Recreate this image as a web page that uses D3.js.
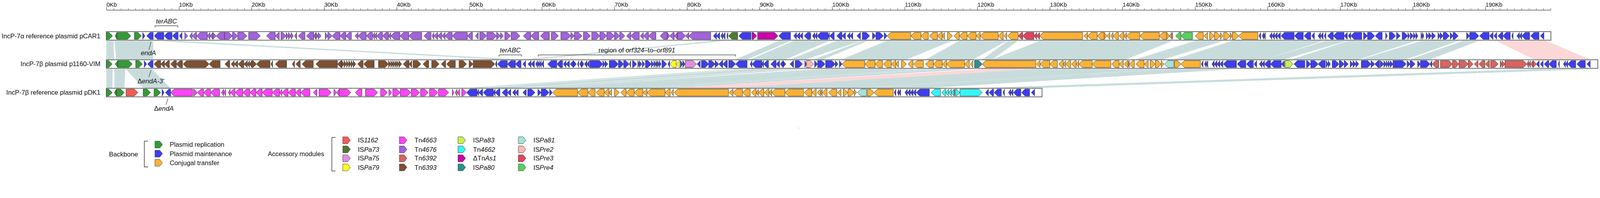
<!DOCTYPE html>
<html>
<head>
<meta charset="utf-8">
<script src="https://cdn.jsdelivr.net/npm/d3@7"></script>
<style>
html, body { margin: 0; padding: 0; background: #fff; overflow: hidden; }
svg { display: block; font-family: "Liberation Sans", Arial, Helvetica, sans-serif; }
</style>
</head>
<body>
<svg></svg>
<script>
// Canvas size
var width = 4667;
var height = 506;

// ---- data ----
var plasmidNames = [
    "IncP-7\u03b1 reference plasmid pCAR1",
    "IncP-7\u03b2 plasmid p1160-VIM",
    "IncP-7\u03b2 reference plasmid pDK1"
];
var plasmidLengths = [199.04, 205.5, 128.92];   // Kb

var majorTicks = [0, 10, 20, 30, 40, 50, 60, 70, 80, 90, 100, 110, 120, 130, 140, 150, 160, 170, 180, 190];
var axisEnd = 199;

// genes: [start Kb, end Kb, strand, module]
var pCAR1Genes = [
    [0, 0.85, 1, "rep"], [1.21, 1.45, -1, "rep"], [1.45, 3.38, 1, "rep"], [3.86, 4.83, 1, "rep"],
    [5.0, 5.31, 1, "mnt"], [5.55, 6.45, -1, "mnt"], [6.59, 7.91, -1, "mnt"], [7.96, 9.05, -1, "mnt"],
    [9.1, 9.89, -1, "mnt"], [10.06, 10.42, -1, "mnt"],
    [10.8, 11.22, 1, "Tn4676"], [11.46, 11.82, -1, "Tn4676"], [11.82, 12.42, -1, "Tn4676"], [12.42, 13.92, -1, "Tn4676"],
    [13.92, 14.28, -1, "Tn4676"], [14.28, 14.67, -1, "Tn4676"], [14.67, 15.15, 1, "Tn4676"], [15.15, 16.28, -1, "Tn4676"],
    [16.28, 17.37, 1, "Tn4676"], [17.37, 18.09, 1, "Tn4676"], [18.09, 19.37, 1, "Tn4676"], [19.59, 21.22, 1, "Tn4676"],
    [22.07, 23.27, -1, "Tn4676"], [23.27, 23.83, -1, "Tn4676"], [24.05, 24.77, 1, "Tn4676"], [24.77, 25.09, 1, "Tn4676"],
    [25.09, 25.45, 1, "Tn4676"], [25.45, 25.76, 1, "Tn4676"], [25.93, 26.22, -1, "Tn4676"], [26.46, 27.37, -1, "Tn4676"],
    [27.57, 28.58, -1, "Tn4676"], [28.58, 28.87, -1, "Tn4676"], [28.87, 29.18, 1, "Tn4676"], [29.18, 29.59, 1, "Tn4676"],
    [30.15, 30.51, 1, "Tn4676"], [30.51, 31.11, 1, "Tn4676"], [31.11, 32.2, -1, "Tn4676"], [32.2, 33.0, -1, "Tn4676"],
    [33.0, 33.76, -1, "Tn4676"], [34.25, 34.68, -1, "Tn4676"], [34.68, 35.81, -1, "Tn4676"], [35.81, 36.67, -1, "Tn4676"],
    [36.67, 36.96, -1, "Tn4676"], [36.96, 37.23, -1, "Tn4676"], [37.23, 38.05, -1, "Tn4676"], [38.05, 38.88, -1, "Tn4676"],
    [38.88, 39.19, -1, "Tn4676"], [39.19, 40.45, -1, "Tn4676"], [40.45, 41.68, -1, "Tn4676"], [41.68, 43.45, -1, "Tn4676"],
    [43.76, 44.74, -1, "Tn4676"], [44.86, 45.13, -1, "Tn4676"], [45.13, 45.65, -1, "Tn4676"], [45.65, 46.2, -1, "Tn4676"],
    [46.2, 46.67, -1, "Tn4676"], [46.67, 47.65, -1, "Tn4676"], [47.65, 49.74, -1, "Tn4676"], [49.74, 50.45, -1, "Tn4676"],
    [50.85, 51.24, -1, "Tn4676"], [51.44, 52.39, 1, "Tn4676"], [52.42, 53.76, 1, "Tn4676"], [53.76, 54.31, 1, "Tn4676"],
    [54.31, 54.7, 1, "Tn4676"], [54.89, 55.7, 1, "Tn4676"], [55.76, 56.99, 1, "Tn4676"], [57.46, 58.48, -1, "Tn4676"],
    [58.48, 59.58, -1, "Tn4676"], [59.81, 61.04, -1, "Tn4676"], [61.31, 62.29, 1, "Tn4676"], [62.62, 63.99, 1, "Tn4676"],
    [63.99, 64.49, 1, "Tn4676"], [64.49, 65.53, 1, "Tn4676"], [65.72, 66.7, 1, "Tn4676"], [66.87, 68.0, 1, "Tn4676"],
    [68.0, 68.95, 1, "Tn4676"], [68.95, 70.0, 1, "Tn4676"], [70.0, 70.73, 1, "Tn4676"], [70.73, 71.43, 1, "Tn4676"],
    [71.67, 72.25, -1, "Tn4676"], [72.25, 73.43, -1, "Tn4676"], [73.56, 73.99, -1, "Tn4676"], [73.99, 74.7, -1, "Tn4676"],
    [74.7, 75.72, -1, "Tn4676"], [76.3, 77.29, -1, "Tn4676"], [77.29, 77.61, 1, "Tn4676"], [77.61, 78.24, -1, "Tn4676"],
    [78.24, 78.68, -1, "Tn4676"], [78.7, 79.81, 1, "Tn4676"], [79.81, 80.26, -1, "Tn4676"], [80.26, 83.28, -1, "Tn4676"],
    [83.63, 84.07, -1, "mnt"], [84.07, 84.51, -1, "mnt"], [84.66, 84.93, -1, "mnt"], [84.93, 85.25, -1, "mnt"],
    [85.48, 85.64, -1, "mnt"], [85.72, 86.98, -1, "ISPa73"], [87.14, 88.82, -1, "mnt"],
    [88.95, 89.61, 1, "TnAs1"], [89.73, 92.54, 1, "TnAs1"],
    [92.65, 94.27, -1, "mnt"], [94.7, 95.09, -1, "mnt"], [95.09, 95.56, -1, "mnt"], [95.56, 95.95, -1, "mnt"],
    [96.14, 96.93, -1, "mnt"], [96.93, 97.06, -1, "mnt"], [97.29, 97.61, -1, "mnt"], [97.61, 97.92, -1, "mnt"],
    [97.92, 99.42, -1, "mnt"], [99.42, 99.62, -1, "mnt"], [99.65, 100.29, -1, "mnt"], [100.63, 101.36, -1, "mnt"],
    [101.36, 101.83, -1, "mnt"], [102.07, 102.46, -1, "mnt"], [102.46, 102.85, -1, "mnt"], [103.41, 103.91, -1, "mnt"],
    [104.15, 105.17, 1, "mnt"], [105.56, 106.03, 1, "mnt"], [106.03, 107.06, 1, "mnt"], [107.17, 107.58, 1, "mnt"],
    [107.58, 110.84, -1, "tra"], [110.84, 112.25, -1, "tra"], [112.25, 113.25, -1, "tra"], [113.4, 114.51, -1, "tra"],
    [114.51, 115.17, -1, "tra"], [115.17, 115.48, -1, "tra"], [115.88, 116.58, 1, "tra"], [116.79, 117.53, -1, "tra"],
    [117.53, 118.6, -1, "tra"], [118.6, 119.84, -1, "tra"], [119.84, 120.41, -1, "tra"], [120.41, 122.88, -1, "tra"],
    [122.88, 123.58, -1, "tra"], [123.69, 124.06, -1, "tra"], [124.17, 125.63, -1, "tra"],
    [125.63, 126.26, -1, "ISPre3"], [126.26, 127.79, -1, "ISPre3"], [127.79, 128.18, -1, "ISPre3"], [128.18, 128.58, -1, "ISPre3"],
    [128.58, 134.53, -1, "tra"], [134.69, 135.2, -1, "tra"], [135.2, 136.53, -1, "tra"], [136.53, 137.49, -1, "tra"],
    [137.49, 137.87, 1, "tra"], [137.87, 138.26, -1, "tra"], [138.39, 138.7, -1, "tra"], [138.7, 139.46, -1, "tra"],
    [139.54, 140.2, -1, "tra"], [140.2, 140.56, -1, "tra"], [140.56, 142.4, -1, "tra"], [142.4, 145.08, -1, "tra"],
    [145.08, 146.1, -1, "tra"], [146.1, 146.5, 1, "tra"], [146.5, 146.77, -1, "tra"], [146.77, 146.92, -1, "tra"],
    [147.33, 148.07, -1, "ISPre4"], [148.07, 149.65, -1, "ISPre4"],
    [150.04, 151.14, -1, "tra"], [151.22, 151.73, -1, "tra"], [152.01, 152.67, 1, "tra"], [152.67, 153.5, 1, "tra"],
    [153.5, 153.85, 1, "tra"], [153.95, 154.84, 1, "tra"], [154.84, 155.08, 1, "tra"], [155.13, 156.02, 1, "tra"],
    [156.02, 158.67, -1, "tra"],
    [158.81, 159.05, -1, "mnt"], [159.25, 159.49, -1, "mnt"], [159.49, 159.69, -1, "mnt"], [160.28, 160.59, -1, "mnt"],
    [160.59, 160.95, -1, "mnt"], [160.95, 161.33, -1, "mnt"], [161.33, 161.77, -1, "mnt"], [161.85, 163.66, -1, "mnt"],
    [163.7, 164.92, -1, "mnt"], [165.03, 165.95, -1, "mnt"], [166.07, 166.45, -1, "mnt"], [166.94, 167.29, -1, "mnt"],
    [167.29, 167.65, -1, "mnt"], [167.79, 168.03, -1, "mnt"], [168.26, 169.05, -1, "mnt"], [169.05, 170.54, -1, "mnt"],
    [170.54, 170.99, -1, "mnt"], [171.1, 171.46, -1, "mnt"], [171.46, 172.98, -1, "mnt"], [173.22, 173.77, 1, "mnt"],
    [173.77, 174.76, 1, "mnt"], [174.84, 175.79, -1, "mnt"], [176.26, 176.5, 1, "mnt"], [176.76, 177.65, 1, "mnt"],
    [177.76, 178.28, 1, "mnt"], [178.54, 179.33, 1, "mnt"], [179.33, 179.57, 1, "mnt"], [179.65, 180.12, 1, "mnt"],
    [180.12, 180.4, 1, "mnt"], [180.43, 180.72, 1, "mnt"], [181.14, 181.35, 1, "mnt"], [181.35, 181.54, 1, "mnt"],
    [181.85, 182.21, 1, "mnt"], [182.21, 182.61, 1, "mnt"], [182.64, 183.14, 1, "mnt"], [183.47, 183.77, 1, "mnt"],
    [183.77, 184.21, 1, "mnt"], [184.21, 185.06, 1, "mnt"], [185.17, 185.56, 1, "mnt"], [185.56, 186.27, 1, "mnt"],
    [187.42, 187.85, 1, "mnt"], [187.85, 189.11, 1, "mnt"], [189.22, 190.52, -1, "mnt"], [190.57, 191.07, -1, "mnt"],
    [191.18, 191.58, -1, "mnt"], [191.74, 192.41, -1, "mnt"], [192.41, 193.44, -1, "mnt"], [193.63, 193.83, -1, "mnt"],
    [194.35, 194.7, -1, "mnt"], [194.7, 195.01, -1, "mnt"], [195.01, 196.11, -1, "mnt"], [196.24, 197.4, -1, "mnt"],
    [197.58, 198.08, -1, "mnt"]
];

var p1160Genes = [
    [0, 0.8, 1, "rep"], [1.21, 1.57, -1, "rep"], [1.57, 3.57, 1, "rep"], [4.04, 4.97, 1, "rep"],
    [5.21, 5.55, 1, "mnt"], [5.67, 6.44, -1, "mnt"],
    [6.56, 7.48, -1, "Tn6393"], [7.48, 8.01, -1, "Tn6393"], [8.01, 8.69, -1, "Tn6393"], [8.86, 9.65, -1, "Tn6393"],
    [9.65, 10.49, -1, "Tn6393"], [10.57, 11.22, -1, "Tn6393"], [11.29, 14.16, 1, "Tn6393"], [14.16, 15.68, -1, "Tn6393"],
    [16.33, 17.0, -1, "Tn6393"], [17.18, 17.61, -1, "Tn6393"], [17.61, 18.09, -1, "Tn6393"], [18.16, 18.94, -1, "Tn6393"],
    [18.94, 19.42, -1, "Tn6393"], [19.42, 19.73, -1, "Tn6393"], [19.73, 20.02, -1, "Tn6393"], [20.09, 20.69, 1, "Tn6393"],
    [20.69, 22.55, -1, "Tn6393"], [22.67, 22.91, -1, "Tn6393"], [23.28, 24.84, -1, "Tn6393"], [25.61, 25.93, -1, "Tn6393"],
    [26.1, 26.72, -1, "Tn6393"], [26.96, 28.51, -1, "Tn6393"], [28.87, 31.84, -1, "Tn6393"], [31.84, 32.44, -1, "Tn6393"],
    [32.44, 32.75, 1, "Tn6393"], [32.75, 33.09, 1, "Tn6393"], [33.09, 33.4, 1, "Tn6393"], [33.4, 33.72, 1, "Tn6393"],
    [33.72, 34.0, 1, "Tn6393"], [34.0, 34.37, 1, "Tn6393"], [34.61, 35.38, -1, "Tn6393"], [35.45, 36.91, -1, "Tn6393"],
    [37.49, 38.88, 1, "Tn6393"], [38.88, 39.19, 1, "Tn6393"], [39.19, 39.46, 1, "Tn6393"], [39.46, 39.75, 1, "Tn6393"],
    [39.75, 40.01, 1, "Tn6393"], [40.01, 40.3, 1, "Tn6393"], [40.3, 40.69, 1, "Tn6393"], [40.89, 41.71, -1, "Tn6393"],
    [41.71, 42.08, -1, "Tn6393"], [42.26, 43.34, 1, "Tn6393"], [43.63, 44.42, -1, "Tn6393"], [44.82, 45.85, 1, "Tn6393"],
    [46.15, 46.75, -1, "Tn6393"], [46.88, 48.09, -1, "Tn6393"], [48.59, 49.63, 1, "Tn6393"], [49.98, 50.53, 1, "Tn6393"],
    [50.53, 53.52, 1, "Tn6393"],
    [53.6, 53.8, -1, "mnt"], [53.88, 55.25, -1, "mnt"], [55.25, 56.36, -1, "mnt"], [56.36, 57.14, -1, "mnt"],
    [57.38, 57.77, -1, "mnt"], [58.08, 58.52, -1, "mnt"], [58.52, 58.98, -1, "mnt"], [59.14, 59.42, -1, "mnt"],
    [59.42, 59.66, -1, "mnt"], [59.66, 59.92, -1, "mnt"], [59.92, 60.26, -1, "mnt"], [60.81, 62.05, -1, "mnt"],
    [62.05, 62.85, -1, "mnt"], [62.96, 63.33, -1, "mnt"], [63.33, 63.8, -1, "mnt"], [63.88, 64.35, -1, "mnt"],
    [64.35, 64.77, 1, "mnt"], [64.93, 65.09, -1, "mnt"], [65.22, 65.48, -1, "mnt"], [65.48, 65.8, 1, "mnt"],
    [65.88, 66.22, -1, "mnt"], [66.22, 66.55, -1, "mnt"], [66.63, 68.4, 1, "mnt"], [68.4, 68.71, 1, "mnt"],
    [68.71, 69.1, 1, "mnt"], [69.29, 70.55, 1, "mnt"], [70.55, 71.28, 1, "mnt"], [71.28, 72.02, 1, "mnt"],
    [72.06, 72.25, -1, "mnt"], [72.49, 73.07, 1, "mnt"], [73.23, 73.43, 1, "mnt"], [73.43, 73.75, 1, "mnt"],
    [73.83, 74.19, 1, "mnt"], [74.27, 75.09, 1, "mnt"], [75.09, 75.45, 1, "mnt"], [75.45, 75.72, 1, "mnt"],
    [75.72, 75.92, 1, "mnt"], [75.92, 76.19, 1, "mnt"], [76.19, 76.43, 1, "mnt"], [76.55, 77.21, 1, "mnt"],
    [77.37, 77.61, -1, "mnt"], [77.61, 78.5, -1, "ISPa79"], [78.5, 79.03, -1, "ISPa79"],
    [79.11, 79.42, 1, "mnt"], [79.42, 79.74, 1, "mnt"], [79.78, 81.31, 1, "ISPa75"],
    [81.39, 81.83, -1, "mnt"], [81.99, 83.0, 1, "mnt"], [83.0, 83.88, 1, "mnt"], [83.88, 84.38, 1, "mnt"],
    [84.38, 84.93, -1, "mnt"], [84.93, 85.56, -1, "mnt"], [85.75, 86.7, 1, "mnt"], [86.7, 88.29, -1, "mnt"],
    [88.71, 88.95, -1, "mnt"], [88.95, 90.33, -1, "mnt"], [90.33, 90.55, -1, "mnt"], [90.55, 91.23, -1, "mnt"],
    [91.55, 92.28, -1, "mnt"], [92.28, 92.76, -1, "mnt"], [92.85, 93.23, -1, "mnt"], [93.23, 93.62, 1, "mnt"],
    [94.19, 94.69, -1, "mnt"], [94.9, 95.92, 1, "mnt"], [96.24, 96.47, 1, "mnt"], [96.47, 97.45, 1, "ISPre2"],
    [97.58, 98.0, 1, "mnt"], [98.0, 99.03, 1, "mnt"], [99.1, 100.44, 1, "mnt"], [100.44, 100.81, 1, "mnt"],
    [101.0, 101.36, 1, "mnt"],
    [101.36, 104.51, -1, "tra"], [104.51, 105.92, -1, "tra"], [105.92, 106.95, -1, "tra"], [107.06, 108.16, -1, "tra"],
    [108.16, 108.79, -1, "tra"], [108.79, 109.14, -1, "tra"], [109.55, 110.24, 1, "tra"], [110.44, 111.15, -1, "tra"],
    [111.23, 112.57, -1, "tra"], [112.88, 113.95, -1, "tra"], [113.95, 115.17, -1, "tra"], [115.17, 115.77, -1, "tra"],
    [115.77, 118.24, -1, "tra"], [118.24, 118.91, -1, "tra"], [119.07, 119.39, -1, "tra"],
    [119.61, 120.68, 1, "ISPa80"],
    [120.68, 128.07, -1, "tra"], [128.15, 128.65, -1, "tra"], [128.65, 129.99, -1, "tra"], [129.99, 131.03, -1, "tra"],
    [131.22, 131.85, -1, "tra"], [131.85, 132.17, -1, "tra"], [132.17, 132.87, -1, "tra"], [132.98, 133.63, -1, "tra"],
    [133.63, 133.98, -1, "tra"], [133.98, 135.83, -1, "tra"], [135.83, 138.39, -1, "tra"], [138.5, 139.54, -1, "tra"],
    [139.54, 140.12, -1, "tra"], [140.23, 140.78, -1, "tra"], [140.78, 140.94, -1, "tra"], [140.94, 141.64, -1, "tra"],
    [141.85, 142.99, -1, "tra"], [142.99, 143.55, -1, "tra"], [143.82, 144.53, 1, "tra"], [144.53, 145.35, 1, "tra"],
    [145.35, 145.71, 1, "tra"], [145.79, 147.08, -1, "ISPa81"], [147.17, 148.07, 1, "tra"], [148.07, 150.75, -1, "tra"],
    [150.87, 151.11, -1, "mnt"], [151.3, 151.54, -1, "mnt"], [151.54, 151.77, -1, "mnt"], [152.32, 152.64, -1, "mnt"],
    [152.64, 153.03, -1, "mnt"], [153.03, 153.43, -1, "mnt"], [153.43, 153.85, -1, "mnt"], [153.9, 155.71, -1, "mnt"],
    [155.82, 157.0, -1, "mnt"], [157.08, 158.04, -1, "mnt"], [158.15, 158.5, -1, "mnt"], [158.86, 159.22, -1, "mnt"],
    [159.22, 159.57, -1, "mnt"], [159.57, 160.39, -1, "mnt"], [160.39, 161.88, -1, "mnt"], [161.88, 162.32, -1, "mnt"],
    [162.43, 163.5, 1, "ISPa83"],
    [163.63, 165.13, -1, "mnt"], [165.36, 165.95, 1, "mnt"], [165.95, 166.97, 1, "mnt"], [166.97, 167.95, -1, "mnt"],
    [168.07, 168.36, 1, "mnt"], [168.36, 168.66, 1, "mnt"], [168.91, 169.84, 1, "mnt"], [169.88, 170.56, 1, "mnt"],
    [170.56, 171.11, 1, "mnt"], [171.38, 171.77, 1, "mnt"], [171.77, 172.17, 1, "mnt"], [172.17, 172.56, 1, "mnt"],
    [172.91, 174.26, 1, "mnt"], [174.26, 174.76, 1, "mnt"], [174.76, 175.43, -1, "mnt"], [175.52, 176.02, 1, "mnt"],
    [176.02, 176.34, 1, "mnt"], [176.34, 176.62, 1, "mnt"], [176.62, 176.89, 1, "mnt"], [176.89, 177.28, 1, "mnt"],
    [177.28, 179.09, 1, "mnt"], [179.22, 179.65, 1, "mnt"], [179.65, 180.32, 1, "mnt"], [180.67, 181.06, 1, "mnt"],
    [181.06, 182.37, 1, "mnt"], [182.37, 182.64, -1, "mnt"],
    [182.67, 183.58, -1, "Tn6392"], [183.82, 185.48, 1, "Tn6392"], [185.48, 186.38, 1, "Tn6392"], [186.38, 187.64, 1, "Tn6392"],
    [187.64, 188.32, 1, "Tn6392"], [188.48, 189.0, -1, "Tn6392"], [189.11, 189.94, -1, "Tn6392"], [190.0, 190.57, -1, "Tn6392"],
    [190.73, 191.78, 1, "Tn6392"], [192.05, 192.3, 1, "Tn6392"], [192.3, 192.7, 1, "Tn6392"], [192.7, 195.72, 1, "Tn6392"],
    [195.72, 195.96, -1, "Tn6392"], [195.96, 196.22, -1, "Tn6392"], [196.22, 196.59, -1, "Tn6392"], [196.59, 197.03, 1, "Tn6392"],
    [197.03, 197.42, -1, "mnt"], [197.58, 197.96, -1, "mnt"], [198.11, 198.74, -1, "mnt"], [198.74, 199.78, -1, "mnt"],
    [200.05, 200.21, -1, "mnt"], [200.76, 201.04, -1, "mnt"], [201.04, 201.36, -1, "mnt"], [201.36, 202.46, -1, "mnt"],
    [202.62, 203.78, -1, "mnt"], [203.99, 204.46, -1, "mnt"]
];

var pDK1Genes = [
    [0, 0.8, 1, "rep"], [1.09, 1.38, -1, "rep"], [1.38, 2.46, 1, "rep"], [2.71, 4.34, 1, "IS1162"],
    [5.07, 6.08, 1, "rep"], [6.56, 7.48, 1, "rep"], [7.67, 7.96, 1, "mnt"], [8.13, 8.85, -1, "mnt"],
    [8.85, 11.87, -1, "Tn4663"], [11.99, 12.54, 1, "Tn4663"], [12.54, 13.39, -1, "Tn4663"], [13.39, 14.35, -1, "Tn4663"],
    [14.35, 15.6, -1, "Tn4663"], [15.85, 16.16, -1, "Tn4663"], [16.16, 16.45, -1, "Tn4663"], [16.81, 17.05, -1, "Tn4663"],
    [17.05, 17.73, -1, "Tn4663"], [17.73, 18.81, -1, "Tn4663"], [18.81, 19.78, -1, "Tn4663"], [19.78, 20.62, -1, "Tn4663"],
    [20.62, 21.47, -1, "Tn4663"], [21.47, 22.86, -1, "Tn4663"], [22.86, 23.88, -1, "Tn4663"], [23.88, 24.19, -1, "Tn4663"],
    [24.19, 25.04, -1, "Tn4663"], [25.04, 26.05, -1, "Tn4663"], [26.05, 26.77, -1, "Tn4663"], [26.77, 28.05, -1, "Tn4663"],
    [28.51, 29.01, -1, "Tn4663"], [29.3, 30.99, 1, "Tn4663"], [31.35, 31.72, 1, "Tn4663"], [31.72, 32.08, -1, "Tn4663"],
    [32.08, 33.69, 1, "Tn4663"], [34.29, 35.21, -1, "Tn4663"], [35.69, 37.38, 1, "Tn4663"], [37.78, 38.72, 1, "Tn4663"],
    [38.93, 39.32, 1, "Tn4663"], [39.46, 40.49, 1, "Tn4663"], [40.49, 41.95, 1, "Tn4663"], [42.0, 43.16, 1, "Tn4663"],
    [43.29, 44.34, 1, "Tn4663"], [44.52, 45.68, 1, "Tn4663"], [45.76, 47.18, 1, "Tn4663"], [47.67, 47.89, 1, "Tn4663"],
    [48.04, 48.33, -1, "Tn4663"], [48.36, 48.67, -1, "Tn4663"], [48.96, 49.62, 1, "Tn4663"],
    [49.62, 51.08, -1, "mnt"], [51.08, 51.32, -1, "mnt"], [51.32, 51.84, -1, "mnt"], [51.92, 53.33, -1, "mnt"],
    [53.33, 53.57, -1, "mnt"], [53.57, 54.23, -1, "mnt"], [54.52, 55.25, -1, "mnt"], [55.25, 55.73, -1, "mnt"],
    [55.96, 56.36, -1, "mnt"], [56.36, 56.75, -1, "mnt"], [57.38, 57.85, -1, "mnt"], [58.05, 59.06, 1, "mnt"],
    [59.45, 59.92, 1, "mnt"], [59.92, 61.0, 1, "mnt"], [61.07, 61.44, 1, "mnt"],
    [61.5, 64.93, -1, "tra"], [64.93, 66.35, -1, "tra"], [66.35, 67.34, -1, "tra"], [67.48, 68.6, -1, "tra"],
    [68.6, 69.26, -1, "tra"], [69.26, 69.61, -1, "tra"], [70.0, 70.68, 1, "tra"], [70.88, 71.62, -1, "tra"],
    [71.62, 72.73, -1, "tra"], [72.73, 73.94, -1, "tra"], [73.94, 74.5, -1, "tra"], [74.5, 76.98, -1, "tra"],
    [76.98, 77.69, -1, "tra"], [77.81, 78.13, -1, "tra"], [78.24, 85.72, -1, "tra"], [85.8, 86.35, -1, "tra"],
    [86.35, 87.66, -1, "tra"], [87.66, 88.71, -1, "tra"], [88.87, 89.53, -1, "tra"], [89.53, 89.84, -1, "tra"],
    [89.84, 90.6, -1, "tra"], [90.65, 91.31, -1, "tra"], [91.31, 91.66, -1, "tra"], [91.66, 93.51, -1, "tra"],
    [93.51, 96.06, -1, "tra"], [96.16, 97.21, -1, "tra"], [97.21, 97.8, -1, "tra"], [97.92, 98.43, -1, "tra"],
    [98.43, 98.63, -1, "tra"], [98.63, 99.31, -1, "tra"], [99.5, 100.65, -1, "tra"], [100.73, 101.23, -1, "tra"],
    [101.52, 102.18, 1, "tra"], [102.18, 103.04, 1, "tra"], [103.04, 103.36, 1, "tra"], [103.48, 104.74, -1, "ISPa81"],
    [104.85, 105.77, 1, "tra"], [105.77, 108.43, -1, "tra"],
    [108.55, 108.79, -1, "mnt"], [108.99, 109.21, -1, "mnt"], [109.21, 109.45, -1, "mnt"], [110.02, 110.36, -1, "mnt"],
    [110.36, 110.76, -1, "mnt"], [110.76, 111.15, -1, "mnt"], [111.15, 111.55, -1, "mnt"], [111.59, 113.4, -1, "mnt"],
    [113.64, 114.93, -1, "Tn4662"], [115.09, 115.64, -1, "Tn4662"], [115.64, 116.03, -1, "Tn4662"], [116.03, 116.43, -1, "Tn4662"],
    [116.43, 116.79, -1, "Tn4662"], [116.79, 116.9, -1, "Tn4662"], [117.01, 117.61, 1, "Tn4662"], [117.61, 120.68, 1, "Tn4662"],
    [121.12, 121.54, -1, "mnt"], [121.62, 122.25, -1, "mnt"], [122.32, 123.32, -1, "mnt"], [123.54, 123.74, -1, "mnt"],
    [124.29, 124.61, -1, "mnt"], [124.61, 124.92, -1, "mnt"], [124.97, 126.0, -1, "mnt"], [126.1, 127.21, -1, "mnt"],
    [127.44, 127.91, -1, "mnt"]
];

// homologous regions: [upper start, upper end, lower start, lower end, kind]
var linksCarVim = [
    [0, 1.0, 0, 1.05, "hi"], [1.1, 6.45, 1.35, 6.45, "hi"], [6.55, 9.9, 53.85, 57.15, "hi"],
    [83.6, 85.3, 57.45, 59.3, "hi"], [92.6, 94.3, 86.7, 88.3, "hi"], [94.7, 99.6, 88.7, 93.6, "hi"],
    [100.6, 104.0, 94.2, 96.4, "hi"], [104.1, 104.9, 97.5, 98.8, "hi"], [107.5, 116.5, 101.3, 110.3, "hi"],
    [117.5, 124.1, 112.9, 119.4, "hi"], [124.2, 125.6, 120.7, 122.1, "hi"], [128.6, 146.9, 122.1, 140.5, "hi"],
    [150.0, 153.9, 141.8, 145.7, "hi"], [155.1, 167.7, 147.15, 159.6, "hi"], [168.0, 170.9, 159.6, 162.3, "hi"],
    [171.1, 180.5, 163.3, 172.6, "hi"], [181.1, 186.3, 172.9, 179.1, "hi"], [186.9, 189.1, 179.6, 182.4, "hi"],
    [191.5, 198.4, 196.7, 204.4, "lo"]
];
var linksVimDk = [
    [0, 0.85, 0, 0.85, "hi"], [1.1, 2.6, 1.1, 2.5, "hi"], [2.66, 6.3, 5.1, 8.8, "hi"],
    [86.7, 88.3, 49.6, 51.2, "hi"], [88.9, 93.65, 51.9, 56.8, "hi"], [94.2, 96.5, 57.4, 59.9, "hi"],
    [98.0, 101.4, 59.9, 61.5, "hi"], [101.4, 112.6, 61.5, 72.8, "hi"], [112.9, 115.2, 72.7, 74.45, "hi"],
    [115.7, 119.4, 74.45, 78.15, "hi"], [120.7, 128.07, 78.24, 85.72, "lo"], [128.1, 145.7, 85.75, 103.4, "hi"],
    [145.8, 147.1, 103.48, 104.74, "hi"], [147.1, 155.7, 104.8, 113.4, "hi"], [197.0, 205.5, 120.7, 128.92, "hi"]
];

// bracket annotations: [start Kb, end Kb, track]
var brackets = [[6.7, 9.85, 0], [54.1, 57.2, 1], [59.5, 86.7, 1]];

// legend
var backboneKeys = ["rep", "mnt", "tra"];
var backboneLabels = ["Plasmid replication", "Plasmid maintenance", "Conjugal transfer"];
var accessoryKeys = ["IS1162", "ISPa73", "ISPa75", "ISPa79", "Tn4663", "Tn4676", "Tn6392", "Tn6393",
                     "ISPa83", "Tn4662", "TnAs1", "ISPa80", "ISPa81", "ISPre2", "ISPre3", "ISPre4"];
var accessoryPlain = ["IS", "IS", "IS", "IS", "Tn", "Tn", "Tn", "Tn", "IS", "Tn", "\u0394Tn", "IS", "IS", "IS", "IS", "IS"];
var accessoryItalic = ["1162", "Pa73", "Pa75", "Pa79", "4663", "4676", "6392", "6393",
                       "Pa83", "4662", "As1", "Pa80", "Pa81", "Pre2", "Pre3", "Pre4"];

// ---- styles ----
var colors = {
    rep: "#339b35", mnt: "#3d3df2", tra: "#fbb234",
    IS1162: "#f55b58", ISPa73: "#4f7a33", ISPa75: "#e08fe0", ISPa79: "#ffff22",
    Tn4663: "#ff44f6", Tn4676: "#a461e0", Tn6392: "#d9635e", Tn6393: "#7f4f30",
    ISPa83: "#c8f052", Tn4662: "#35f6f6", TnAs1: "#cc00aa", ISPa80: "#2e8f8f",
    ISPa81: "#a6e3d6", ISPre2: "#ffb7b8", ISPre3: "#e2435f", ISPre4: "#55d15c"
};
var linkColors = { hi: "#c3d8d8", lo: "#fbd3d3" };

// layout
var trackTop = [92, 174, 257];
var boxH = 25;
var axisY = 29;
var labelRight = 293;

var x = d3.scaleLinear()
    .domain([0, axisEnd])
    .range([310.3, 310.3 + axisEnd * 21.17]);

// the drawing is laid out in a 4667x506 box and scaled to the window width
var svg = d3.select("svg")
    .attr("viewBox", "0 0 " + width + " " + height)
    .attr("preserveAspectRatio", "xMinYMin meet")
    .style("width", "100vw")
    .style("height", "auto");

// ---- scale bar on top ----
var minorAxis = svg.append("g")
    .attr("transform", "translate(0," + axisY + ")")
    .call(d3.axisTop(x)
        .tickValues(d3.range(0, axisEnd + 1, 1))
        .tickSize(5)
        .tickSizeOuter(0)
        .tickFormat(""));
minorAxis.attr("color", "#333");
minorAxis.select(".domain").attr("stroke-width", 1.5);

var majorAxis = svg.append("g")
    .attr("transform", "translate(0," + axisY + ")")
    .call(d3.axisTop(x)
        .tickValues(majorTicks)
        .tickSize(10)
        .tickSizeOuter(0)
        .tickFormat(function(d) { return d + "Kb"; }));
majorAxis.select(".domain").remove();
majorAxis.attr("color", "#333")
    .attr("font-family", null)
    .attr("font-size", null);
majorAxis.selectAll("text")
    .attr("x", 0)
    .attr("y", -9.5)
    .attr("text-anchor", "start")
    .style("font-size", "17px")
    .style("fill", "#111");

// ---- homology links (drawn under the tracks) ----
function linkPath(d, yTop, yBot) {
    return "M" + x(d[0]) + "," + yTop + "L" + x(d[1]) + "," + yTop +
           "L" + x(d[3]) + "," + yBot + "L" + x(d[2]) + "," + yBot + "Z";
}

svg.append("g").selectAll("path")
    .data(linksCarVim)
    .enter().append("path")
    .attr("d", function(d) { return linkPath(d, trackTop[0] + boxH + 2, trackTop[1] - 1); })
    .attr("fill", function(d) { return linkColors[d[4]]; })
    .attr("fill-opacity", 0.9);

svg.append("g").selectAll("path")
    .data(linksVimDk)
    .enter().append("path")
    .attr("d", function(d) { return linkPath(d, trackTop[1] + boxH + 2, trackTop[2] - 1); })
    .attr("fill", function(d) { return linkColors[d[4]]; })
    .attr("fill-opacity", 0.9);

// ---- tracks ----
function genePath(d, top) {
    var x1 = x(d[0]), x2 = x(d[1]);
    var head = Math.min(10, x2 - x1);
    var y0 = top + 2.5, y1 = top + boxH - 2.5, ym = (y0 + y1) / 2;
    if (d[2] > 0) {
        return "M" + x1 + "," + y0 + "L" + (x2 - head) + "," + y0 + "L" + x2 + "," + ym +
               "L" + (x2 - head) + "," + y1 + "L" + x1 + "," + y1 + "Z";
    }
    return "M" + x2 + "," + y0 + "L" + (x1 + head) + "," + y0 + "L" + x1 + "," + ym +
           "L" + (x1 + head) + "," + y1 + "L" + x2 + "," + y1 + "Z";
}

var allGenes = [pCAR1Genes, p1160Genes, pDK1Genes];

allGenes.forEach(function(genes, i) {
    var top = trackTop[i];
    var g = svg.append("g").attr("class", "track");

    g.append("rect")
        .attr("x", x(0))
        .attr("y", top)
        .attr("width", x(plasmidLengths[i]) - x(0))
        .attr("height", boxH)
        .attr("fill", "#fff")
        .attr("stroke", "#555")
        .attr("stroke-width", 2);

    g.selectAll("path")
        .data(genes)
        .enter().append("path")
        .attr("d", function(d) { return genePath(d, top); })
        .attr("fill", function(d) { return colors[d[3]]; })
        .attr("stroke", "#2a2a2a")
        .attr("stroke-width", 1)
        .attr("stroke-linejoin", "miter");

    svg.append("text")
        .attr("x", labelRight)
        .attr("y", top + boxH / 2)
        .attr("dy", "0.35em")
        .attr("text-anchor", "end")
        .style("font-size", "19px")
        .style("fill", "#111")
        .text(plasmidNames[i]);
});

// ---- brackets and gene labels ----
brackets.forEach(function(b) {
    var by = b[2] === 0 ? 75 : 160;
    svg.append("path")
        .attr("d", "M" + x(b[0]) + "," + (by + 5) + "V" + by + "H" + x(b[1]) + "V" + (by + 5))
        .attr("fill", "none")
        .attr("stroke", "#333")
        .attr("stroke-width", 1.3);
});

svg.append("text")
    .attr("x", (x(brackets[0][0]) + x(brackets[0][1])) / 2)
    .attr("y", 68)
    .attr("text-anchor", "middle")
    .style("font-size", "19px").style("font-style", "italic").style("fill", "#111")
    .text("terABC");

svg.append("text")
    .attr("x", (x(brackets[1][0]) + x(brackets[1][1])) / 2)
    .attr("y", 153)
    .attr("text-anchor", "middle")
    .style("font-size", "19px").style("font-style", "italic").style("fill", "#111")
    .text("terABC");

var regionText = svg.append("text")
    .attr("x", (x(brackets[2][0]) + x(brackets[2][1])) / 2)
    .attr("y", 153)
    .attr("text-anchor", "middle")
    .style("font-size", "19px").style("fill", "#111");
regionText.append("tspan").text("region of ");
regionText.append("tspan").style("font-style", "italic").text("orf324");
regionText.append("tspan").text("\u2013to\u2013");
regionText.append("tspan").style("font-style", "italic").text("orf891");

// leader lines for endA
var leaders = [
    { x1: 440.5, y1: 122, x2: 434.5, y2: 145, tx: 433, ty: 161, pre: "", it: "endA" },
    { x1: 440.5, y1: 204, x2: 434.5, y2: 224, tx: 440, ty: 243, pre: "\u0394", it: "endA-3\u2032" },
    { x1: 490, y1: 287, x2: 484, y2: 305, tx: 478, ty: 322, pre: "\u0394", it: "endA" }
];
leaders.forEach(function(l) {
    svg.append("line")
        .attr("x1", l.x1).attr("y1", l.y1)
        .attr("x2", l.x2).attr("y2", l.y2)
        .attr("stroke", "#222").attr("stroke-width", 1.2);
    var t = svg.append("text")
        .attr("x", l.tx).attr("y", l.ty)
        .attr("text-anchor", "middle")
        .style("font-size", "19px").style("fill", "#111");
    if (l.pre) t.append("tspan").text(l.pre);
    t.append("tspan").style("font-style", "italic").text(l.it);
});

// ---- legend ----
function swatchPath(x0, cy) {
    var w = 22, h = 20, head = 8;
    return "M" + x0 + "," + (cy - h / 2) + "H" + (x0 + w - head) + "L" + (x0 + w) + "," + cy +
           "L" + (x0 + w - head) + "," + (cy + h / 2) + "H" + x0 + "Z";
}

function bracketPath(bx, y0, y1) {
    return "M" + (bx + 11) + "," + y0 + "H" + bx + "V" + y1 + "H" + (bx + 11);
}

var legend = svg.append("g").attr("class", "legend");

legend.append("text")
    .attr("x", 318).attr("y", 449).attr("dy", "0.35em")
    .style("font-size", "19px").style("fill", "#111")
    .text("Backbone");
legend.append("path")
    .attr("d", bracketPath(421, 411, 486))
    .attr("fill", "none").attr("stroke", "#222").attr("stroke-width", 1.5);

var backboneRows = [421, 447.5, 474];
backboneKeys.forEach(function(k, i) {
    legend.append("path")
        .attr("d", swatchPath(452, backboneRows[i]))
        .attr("fill", colors[k]).attr("stroke", "#333").attr("stroke-width", 1);
    legend.append("text")
        .attr("x", 495).attr("y", backboneRows[i]).attr("dy", "0.35em")
        .style("font-size", "19px").style("fill", "#111")
        .text(backboneLabels[i]);
});

legend.append("text")
    .attr("x", 781).attr("y", 448).attr("dy", "0.35em")
    .style("font-size", "19px").style("fill", "#111")
    .text("Accessory modules");
legend.append("path")
    .attr("d", bracketPath(968, 400, 498))
    .attr("fill", "none").attr("stroke", "#222").attr("stroke-width", 1.5);

var accCols = [1000, 1165, 1336, 1512];
var accRows = [408.5, 435, 461, 487.5];
accessoryKeys.forEach(function(k, i) {
    var col = Math.floor(i / 4), row = i % 4;
    legend.append("path")
        .attr("d", swatchPath(accCols[col], accRows[row]))
        .attr("fill", colors[k]).attr("stroke", "#333").attr("stroke-width", 1);
    var t = legend.append("text")
        .attr("x", accCols[col] + 44).attr("y", accRows[row]).attr("dy", "0.35em")
        .style("font-size", "19px").style("fill", "#111");
    t.append("tspan").text(accessoryPlain[i]);
    t.append("tspan").style("font-style", "italic").text(accessoryItalic[i]);
});

// stray mark under the figure
svg.append("text")
    .attr("x", 2328).attr("y", 374)
    .style("font-size", "12px").style("fill", "#333")
    .text(".");
</script>
</body>
</html>
